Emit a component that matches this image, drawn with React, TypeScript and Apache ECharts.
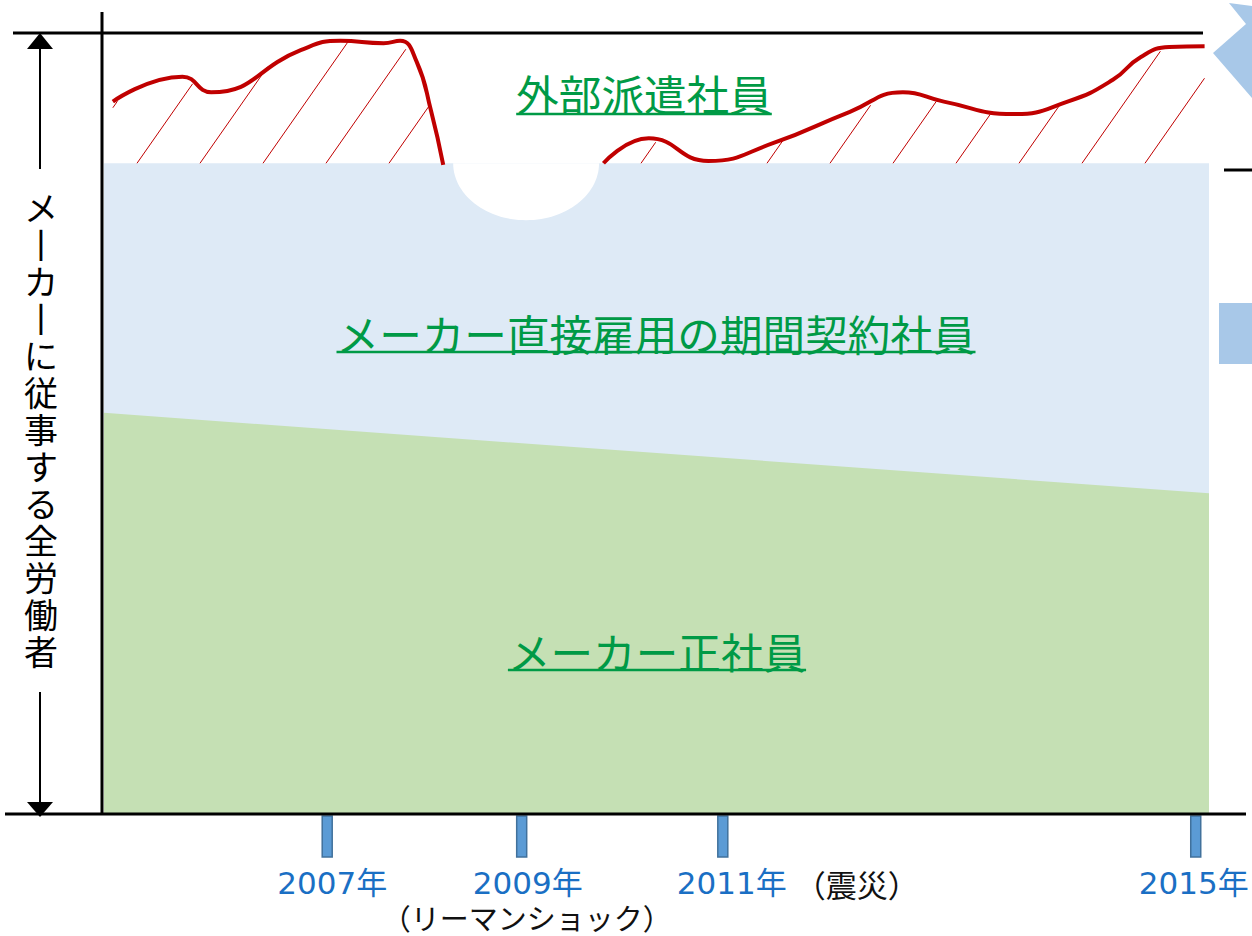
import React, { useEffect, useRef } from 'react';
import * as echarts from 'echarts';

// Timeline position: 0 = left edge of the plot, 100 = right edge.
// Vertical value: share of all workers (0 = bottom line, 100 = top line).
const contractTop = 83.3;

const regularX = [0, 100];
const regularY = [51.3, 41.0];

const contractX = [0, 100];
const contractY = [83.3, 83.3];

const dispatchBeforeX = [0.8, 7.1, 9.7, 17.8, 21.4, 25.3, 26.8, 28.3, 29.6, 30.7];
const dispatchBeforeY = [91.2, 94.4, 92.4, 97.8, 99.0, 98.7, 99.0, 96.3, 90.0, 83.1];

const dispatchAfterX = [45.2, 49.3, 54.7, 60.6, 67.5, 72.3, 76.0, 82.3, 87.2, 91.3, 93.8, 96.4, 99.6];
const dispatchAfterY = [83.3, 86.5, 83.6, 85.9, 89.9, 92.4, 91.2, 89.6, 91.2, 94.0, 96.9, 98.2, 98.3];

// gap (notch) left in the contract band after the Lehman shock
const notchCenter = 38.2;
const notchHalfWidth = 6.6;
const notchDepth = 7.3;

// timeline markers
const markerX = [20.2, 37.8, 56.0, 98.8];
const yearLabels = ['2007年', '2009年', '2011年', '2015年'];
const yearNotes = ['', '（リーマンショック）', '（震災）', ''];
const notePlacement = ['', 'below', 'right', ''];

const areaLabels = ['外部派遣社員', 'メーカー直接雇用の期間契約社員', 'メーカー正社員'];
const axisTitle = 'メーカーに従事する全労働者';

const CJK = "'Noto Sans CJK JP', sans-serif";
const YEAR_FONT = "'DejaVu Sans', 'Noto Sans CJK JP', sans-serif";
const RED = '#C00000';
const GREEN_TXT = '#009A46';
const BLUE_TXT = '#1A6FC4';
const LABEL_DX = [5, 6, 9, -2];
const HATCH_PHASE = 33;
const HATCH_STEP = 63;
const SLANT = 0.7;

const pairs = (xs: number[], ys: number[]) => xs.map((x, i) => [x, ys[i]]);

export default function App() {
  const ref = useRef<HTMLDivElement>(null);

  useEffect(() => {
    if (!ref.current) return;
    const chart = echarts.init(ref.current, null, { renderer: 'svg' });

    const before = pairs(dispatchBeforeX, dispatchBeforeY);
    const after = pairs(dispatchAfterX, dispatchAfterY);

    const renderNotch = (params: any, api: any) => {
      const c = api.coord([api.value(0), api.value(1)]);
      const rx = api.size([notchHalfWidth, 0])[0];
      const ry = api.size([0, notchDepth])[1];
      const pts: number[][] = [];
      for (let k = 0; k <= 60; k++) {
        const a = (Math.PI * k) / 60;
        pts.push([c[0] - rx * Math.cos(a), c[1] + ry * Math.sin(a)]);
      }
      return { type: 'polygon', shape: { points: pts }, style: { fill: '#ffffff' } };
    };

    const renderHatch = (params: any, api: any) => {
      const children: any[] = [];
      const baseY = api.coord([0, contractTop])[1];
      const left = api.coord([0, 0])[0];
      for (const seg of [before, after]) {
        const pts = seg.map((p) => api.coord(p));
        const x0 = pts[0][0];
        const x1 = pts[pts.length - 1][0];
        const curveAt = (x: number) => {
          for (let i = 0; i < pts.length - 1; i++) {
            const a = pts[i];
            const b = pts[i + 1];
            if (x >= a[0] && x <= b[0]) {
              const t = (x - a[0]) / (b[0] - a[0] || 1);
              return a[1] + t * (b[1] - a[1]);
            }
          }
          return null;
        };
        for (let xb = left + HATCH_PHASE - 2 * HATCH_STEP; xb < x1; xb += HATCH_STEP) {
          let start: number[] | null = null;
          let end: number[] | null = null;
          for (let h = 0; h <= 200; h += 0.5) {
            const x = xb + h * SLANT;
            const y = baseY - h;
            const c = x >= x0 && x <= x1 ? curveAt(x) : null;
            const inside = c != null && y >= c + 1;
            if (inside && !start) start = [x, y];
            if (inside) end = [x, y];
            if (!inside && start) break;
          }
          if (start && end && Math.hypot(end[0] - start[0], end[1] - start[1]) > 5) {
            children.push({
              type: 'line',
              shape: { x1: start[0], y1: start[1], x2: end[0], y2: end[1] },
              style: { stroke: RED, lineWidth: 1 },
            });
          }
        }
      }
      return { type: 'group', children };
    };

    const renderMarkers = (params: any, api: any) => {
      const i = params.dataIndex;
      const x = api.coord([api.value(0), 0])[0];
      const y0 = api.coord([0, 0])[1];
      const children: any[] = [
        {
          type: 'rect',
          shape: { x: x - 5, y: y0 + 3, width: 10, height: 41 },
          style: { fill: '#5B9BD5', stroke: '#41719C', lineWidth: 1.5 },
        },
        {
          type: 'text',
          style: {
            text: yearLabels[i],
            x: x + LABEL_DX[i],
            y: y0 + 70,
            fill: BLUE_TXT,
            fontSize: 31,
            fontFamily: YEAR_FONT,
            align: 'center',
            verticalAlign: 'middle',
          },
        },
      ];
      if (notePlacement[i] === 'below') {
        children.push({
          type: 'text',
          style: {
            text: yearNotes[i],
            x: x + 5,
            y: y0 + 104,
            fill: '#111',
            fontSize: 29,
            fontFamily: CJK,
            align: 'center',
            verticalAlign: 'middle',
          },
        });
      } else if (notePlacement[i] === 'right') {
        children.push({
          type: 'text',
          style: {
            text: yearNotes[i],
            x: x + 72,
            y: y0 + 70,
            fill: '#111',
            fontSize: 31,
            fontFamily: CJK,
            align: 'left',
            verticalAlign: 'middle',
          },
        });
      }
      return { type: 'group', children };
    };

    const labelPos = [
      [644, 92, 114],
      [656, 332, 352],
      [657, 650, 670],
    ];
    const LABEL_FS = 42.6;
    const labelEls: any[] = [];
    areaLabels.forEach((t, i) => {
      const [cx, cy, uy] = labelPos[i];
      const w = LABEL_FS * t.length;
      labelEls.push({
        type: 'text',
        z: 100,
        style: {
          text: t,
          x: cx,
          y: cy,
          fill: GREEN_TXT,
          fontSize: LABEL_FS,
          fontFamily: CJK,
          align: 'center',
          textAlign: 'center',
          verticalAlign: 'middle',
          textVerticalAlign: 'middle',
        },
      });
      labelEls.push({
        type: 'line',
        z: 100,
        shape: { x1: cx - w / 2, y1: uy, x2: cx + w / 2, y2: uy },
        style: { stroke: GREEN_TXT, lineWidth: 2.5 },
      });
    });

    const verticalText = axisTitle
      .split('')
      .map((ch) => (ch === 'ー' ? '丨' : ch))
      .join('\n');

    const option: any = {
      animation: false,
      backgroundColor: '#ffffff',
      grid: { left: 104, right: 43, top: 33, bottom: 123, show: false },
      xAxis: { type: 'value', min: 0, max: 100, show: false },
      yAxis: { type: 'value', min: 0, max: 100, show: false },
      series: [
        {
          type: 'line',
          data: pairs(contractX, contractY),
          symbol: 'none',
          lineStyle: { width: 0, opacity: 0 },
          areaStyle: { color: '#DEEAF6', opacity: 1 },
          silent: true,
          z: 1,
        },
        {
          type: 'line',
          data: pairs(regularX, regularY),
          symbol: 'none',
          lineStyle: { width: 0, opacity: 0 },
          areaStyle: { color: '#C5E0B4', opacity: 1 },
          silent: true,
          z: 2,
        },
        {
          type: 'custom',
          renderItem: renderNotch,
          data: [[notchCenter, contractTop]],
          clip: false,
          silent: true,
          z: 3,
        },
        {
          type: 'custom',
          renderItem: renderHatch,
          data: [[0, 0]],
          clip: false,
          silent: true,
          z: 4,
        },
        {
          type: 'line',
          data: before,
          smooth: 0.5,
          symbol: 'none',
          lineStyle: { color: RED, width: 4 },
          silent: true,
          z: 5,
        },
        {
          type: 'line',
          data: after,
          smooth: 0.5,
          symbol: 'none',
          lineStyle: { color: RED, width: 4 },
          silent: true,
          z: 5,
        },
        {
          type: 'custom',
          renderItem: renderMarkers,
          data: markerX.map((x, i) => [x, i]),
          clip: false,
          silent: true,
          z: 6,
        },
      ],
      graphic: [
        { type: 'line', z: 90, shape: { x1: 13, y1: 33, x2: 1203, y2: 33 }, style: { stroke: '#000', lineWidth: 3 } },
        { type: 'line', z: 90, shape: { x1: 102, y1: 12, x2: 102, y2: 815 }, style: { stroke: '#000', lineWidth: 3 } },
        { type: 'line', z: 90, shape: { x1: 5, y1: 814, x2: 1246, y2: 814 }, style: { stroke: '#000', lineWidth: 3 } },
        { type: 'line', z: 90, shape: { x1: 40, y1: 47, x2: 40, y2: 169 }, style: { stroke: '#000', lineWidth: 2 } },
        { type: 'polygon', z: 90, shape: { points: [[27, 49], [53, 49], [40, 33]] }, style: { fill: '#000' } },
        { type: 'line', z: 90, shape: { x1: 40, y1: 692, x2: 40, y2: 804 }, style: { stroke: '#000', lineWidth: 2 } },
        { type: 'polygon', z: 90, shape: { points: [[27, 802], [53, 802], [40, 817]] }, style: { fill: '#000' } },
        {
          type: 'text',
          z: 90,
          style: {
            text: verticalText,
            x: 41,
            y: 188,
            fill: '#000',
            fontSize: 34,
            lineHeight: 37,
            fontFamily: CJK,
            align: 'center',
            textAlign: 'center',
            verticalAlign: 'top',
            textVerticalAlign: 'top',
          },
        },
        { type: 'polygon', z: 90, shape: { points: [[1229, 3], [1252, 6], [1252, 98], [1213, 53], [1246, 24]] }, style: { fill: '#A8C8E8' } },
        { type: 'rect', z: 90, shape: { x: 1219, y: 303, width: 33, height: 61 }, style: { fill: '#A8C8E8' } },
        { type: 'line', z: 90, shape: { x1: 1224, y1: 170, x2: 1252, y2: 170 }, style: { stroke: '#000', lineWidth: 3 } },
        ...labelEls,
      ],
    };

    chart.setOption(option);
    return () => chart.dispose();
  }, []);

  return (
    <div
      ref={ref}
      style={{ position: 'absolute', left: 0, top: 0, width: 1252, height: 936, background: '#fff' }}
    />
  );
}
